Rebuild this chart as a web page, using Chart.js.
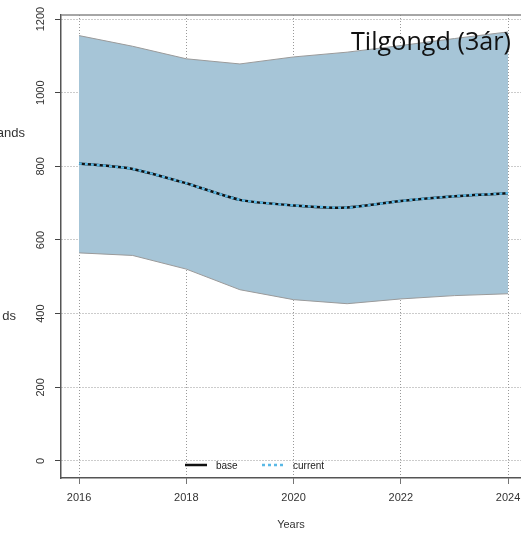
<!DOCTYPE html>
<html>
<head>
<meta charset="utf-8">
<script src="https://cdn.jsdelivr.net/npm/chart.js@4/dist/chart.umd.min.js"></script>
<style>
  html, body { margin: 0; padding: 0; background: #fff; overflow: hidden; }
  #wrap { position: relative; width: 521px; height: 533px; }
</style>
</head>
<body>
<div id="wrap"><canvas id="chart"></canvas></div>
<script>
// ---- data ----
const years = [2016, 2017, 2018, 2019, 2020, 2021, 2022, 2023, 2024];
const upper = [1155, 1126, 1092, 1078, 1097, 1110, 1128, 1147, 1165];
const lower = [565, 558, 521, 465, 438, 427, 440, 449, 454];
const base = [808, 793, 754, 709, 694, 688, 706, 719, 727];
const current = [808, 793, 754, 709, 694, 688, 706, 719, 727];
const xTicks = [2016, 2018, 2020, 2022, 2024];
const yTicks = [0, 200, 400, 600, 800, 1000, 1200];
const legendLabels = ["base", "current"];
const titleText = "Tilgongd (3ár)";
const sideLabels = ["ands", "ds"];

const pts = (arr) => arr.map((v, i) => ({ x: years[i], y: v }));

const AXIS_FONT = "'Liberation Sans', Arial, sans-serif";
const BAND_FILL = "#a6c5d7";

/* box, rotated y labels, legend, title */
const rDecor = {
  id: "rDecor",
  afterDraw(chart) {
    const { ctx, chartArea: a } = chart;
    const y = chart.scales.y;
    ctx.save();

    // top edge of the R box
    ctx.strokeStyle = "#888";
    ctx.lineWidth = 1.5;
    ctx.beginPath();
    ctx.moveTo(a.left, a.top);
    ctx.lineTo(a.right, a.top);
    ctx.stroke();

    // rotated y tick labels
    ctx.fillStyle = "#333";
    ctx.font = "11px " + AXIS_FONT;
    ctx.textAlign = "center";
    ctx.textBaseline = "middle";
    y.ticks.forEach((t) => {
      const py = y.getPixelForValue(t.value);
      ctx.save();
      ctx.translate(41, py);
      ctx.rotate(-Math.PI / 2);
      ctx.fillText(String(t.value), 0, 0);
      ctx.restore();
    });

    // cropped y-axis title fragments
    ctx.font = "13px " + AXIS_FONT;
    ctx.textAlign = "right";
    ctx.fillText(sideLabels[0], 25, 133);
    ctx.fillText(sideLabels[1], 16, 316);

    // legend (no box)
    const ly = 465;
    const ds = chart.data.datasets;
    const items = [
      { ds: ds[2], x0: 185, tx: 216 },
      { ds: ds[3], x0: 262, tx: 293 },
    ];
    ctx.font = "10px " + AXIS_FONT;
    ctx.textAlign = "left";
    items.forEach((it, i) => {
      ctx.strokeStyle = it.ds.borderColor;
      ctx.lineWidth = it.ds.borderWidth;
      ctx.setLineDash(it.ds.borderDash || []);
      ctx.beginPath();
      ctx.moveTo(it.x0, ly);
      ctx.lineTo(it.x0 + 22, ly);
      ctx.stroke();
      ctx.setLineDash([]);
      ctx.fillStyle = "#222";
      ctx.fillText(legendLabels[i], it.tx, ly + 1);
    });

    // title in the corner, sized to span ~160px
    ctx.fillStyle = "#111";
    ctx.font = "20px 'Open Sans', sans-serif";
    const w20 = ctx.measureText(titleText).width;
    const fs = Math.round((20 * 160) / w20 * 10) / 10;
    ctx.font = fs + "px 'Open Sans', sans-serif";
    ctx.textAlign = "right";
    ctx.textBaseline = "alphabetic";
    ctx.fillText(titleText, 511, 50);

    ctx.restore();
  },
};

const gridStyle = {
  color: "#999",
  lineWidth: 1,
  drawTicks: true,
  tickLength: 6,
  tickColor: "#444",
  tickBorderDash: [1, 0],
  tickWidth: 1,
};
const borderStyle = { display: true, color: "#555", width: 1.5, dash: [1, 2] };

new Chart(document.getElementById("chart"), {
  type: "line",
  data: {
    datasets: [
      {
        label: "upper",
        data: pts(upper),
        borderColor: "#9a9a9a",
        borderWidth: 1,
        backgroundColor: BAND_FILL,
        fill: "+1",
        pointRadius: 0,
        tension: 0,
        order: 3,
      },
      {
        label: "lower",
        data: pts(lower),
        borderColor: "#9a9a9a",
        borderWidth: 1,
        fill: false,
        pointRadius: 0,
        tension: 0,
        order: 2,
      },
      {
        label: legendLabels[0],
        data: pts(base),
        borderColor: "#111",
        borderWidth: 2.5,
        fill: false,
        pointRadius: 0,
        tension: 0.2,
        order: 1,
      },
      {
        label: legendLabels[1],
        data: pts(current),
        borderColor: "#5ab9e6",
        borderWidth: 2.5,
        borderDash: [3, 3],
        fill: false,
        pointRadius: 0,
        tension: 0.2,
        order: 0,
      },
    ],
  },
  options: {
    responsive: true,
    maintainAspectRatio: false,
    animation: false,
    layout: { padding: { top: 15, left: 0, right: 0, bottom: 0 } },
    plugins: {
      legend: { display: false },
      tooltip: { enabled: false },
    },
    scales: {
      x: {
        type: "linear",
        min: 2015.664,
        max: 2024.242,
        z: 1,
        afterBuildTicks: (s) => {
          s.ticks = xTicks.map((v) => ({ value: v }));
        },
        afterFit: (s) => {
          s.height = 55;
          s.paddingLeft = 0;
          s.paddingRight = 0;
        },
        ticks: {
          color: "#333",
          font: { family: AXIS_FONT, size: 11 },
          padding: 7,
          maxRotation: 0,
          callback: (v) => String(v),
        },
        grid: gridStyle,
        border: borderStyle,
        title: {
          display: true,
          text: "Years",
          color: "#333",
          font: { family: AXIS_FONT, size: 11 },
          padding: { top: 0, bottom: 1 },
        },
      },
      y: {
        type: "linear",
        min: -46.2,
        max: 1210.9,
        z: 1,
        afterBuildTicks: (s) => {
          s.ticks = yTicks.map((v) => ({ value: v }));
        },
        afterFit: (s) => {
          s.width = 61;
          s.paddingTop = 0;
          s.paddingBottom = 0;
        },
        ticks: { display: false },
        grid: gridStyle,
        border: borderStyle,
      },
    },
  },
  plugins: [rDecor],
});
</script>
</body>
</html>
